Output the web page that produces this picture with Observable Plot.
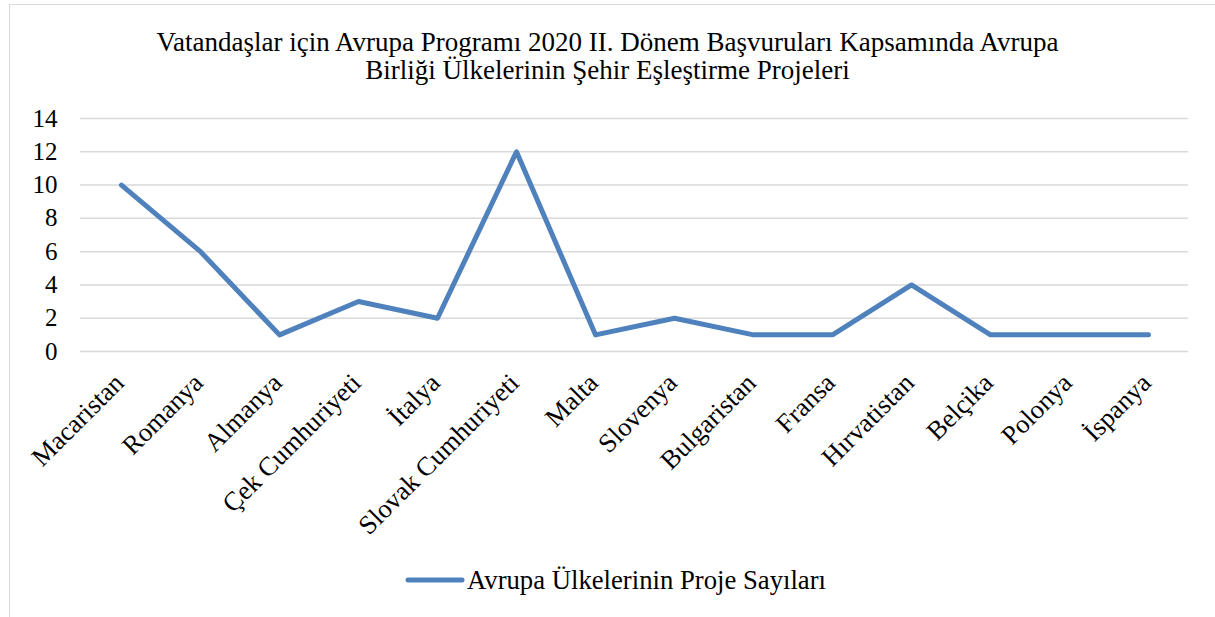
<!DOCTYPE html>
<html>
<head>
<meta charset="utf-8">
<script src="https://cdn.jsdelivr.net/npm/d3@7"></script>
<script src="https://cdn.jsdelivr.net/npm/@observablehq/plot@0.6"></script>
<style>
  html, body { margin: 0; padding: 0; background: #fff; overflow: hidden; width: 1215px; height: 617px; }
  body { font-family: "Liberation Serif", "Times New Roman", serif; position: relative; }
  #frame { position: absolute; left: 9px; top: 4px; width: 1400px; height: 800px; border-left: 1.5px solid #d9d9d9; border-top: 1.5px solid #d9d9d9; box-sizing: border-box; }
  #title { position: absolute; left: 0; top: 28px; width: 1215px; text-align: center; font-size: 27px; line-height: 28px; color: #000; }
  #chart { position: absolute; left: 0; top: 95px; }
  #legend { position: absolute; left: 405px; top: 565px; display: flex; align-items: center; font-size: 26.7px; line-height: 30px; color: #000; white-space: nowrap; }
  #legend svg { margin-right: 2px; }
</style>
</head>
<body>
<div id="frame"></div>
<div id="title">Vatandaşlar için Avrupa Programı 2020 II. Dönem Başvuruları Kapsamında Avrupa<br>Birliği Ülkelerinin Şehir Eşleştirme Projeleri</div>
<div id="chart"></div>
<div id="legend"></div>
<script>
const countries = ["Macaristan", "Romanya", "Almanya", "Çek Cumhuriyeti", "İtalya", "Slovak Cumhuriyeti", "Malta", "Slovenya", "Bulgaristan", "Fransa", "Hırvatistan", "Belçika", "Polonya", "İspanya"];
const projectCounts = [10, 6, 1, 3, 2, 12, 1, 2, 1, 1, 4, 1, 1, 1];
const yTicks = [0, 2, 4, 6, 8, 10, 12, 14];
const seriesName = "Avrupa Ülkelerinin Proje Sayıları";
const lineColor = "#4f81bd";

const data = countries.map((c, i) => ({country: c, value: projectCounts[i]}));

const chart = Plot.plot({
  width: 1215,
  height: 445,
  marginTop: 23,
  marginBottom: 189,
  marginLeft: 80,
  marginRight: 27,
  style: {fontFamily: "'Liberation Serif', 'Times New Roman', serif", fontSize: "25px", color: "#000", background: "transparent"},
  x: {type: "point", domain: countries, padding: 0.5},
  y: {domain: [0, 14]},
  marks: [
    Plot.ruleY(yTicks, {stroke: "#d9d9d9", strokeWidth: 1.5}),
    Plot.axisY({ticks: yTicks, tickSize: 0, tickPadding: 23, label: null, fontSize: 25}),
    Plot.axisX({tickSize: 0, tickPadding: 27, dx: -2, tickRotate: -45, label: null, fontSize: 26.5}),
    Plot.line(data, {x: "country", y: "value", stroke: lineColor, strokeWidth: 5, strokeLinecap: "round", strokeLinejoin: "round"})
  ]
});
document.getElementById("chart").appendChild(chart);

const legend = document.getElementById("legend");
legend.innerHTML = `<svg width="60" height="10"><line x1="3" y1="5" x2="57" y2="5" stroke="${lineColor}" stroke-width="5" stroke-linecap="round"/></svg><span>${seriesName}</span>`;
</script>
</body>
</html>
